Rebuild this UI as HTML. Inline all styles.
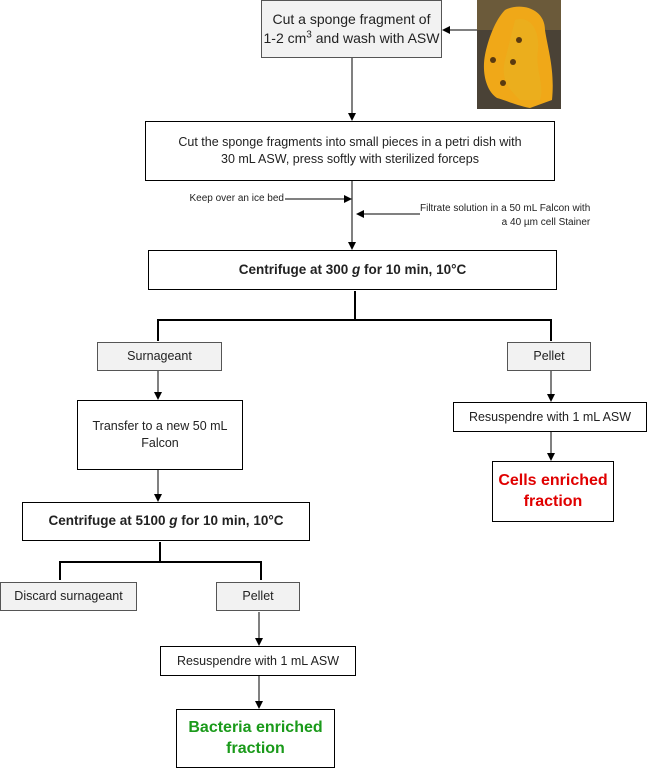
<!DOCTYPE html>
<html><head><meta charset="utf-8"><style>
body{margin:0;width:648px;height:770px;background:#fff;position:relative;overflow:hidden;font-family:"Liberation Sans",sans-serif;color:#222}
.b{position:absolute;box-sizing:border-box;border:1px solid #000;background:#fff;display:flex;align-items:center;justify-content:center;text-align:center;font-size:12.5px;line-height:1.35}
.g{background:#f2f2f2;border-color:#555}
.bold{font-weight:bold;font-size:13.5px}
.big{font-weight:bold;font-size:16px;line-height:1.3}
svg{position:absolute;left:0;top:0}
.t{position:absolute;font-size:10px;white-space:nowrap}
</style></head><body>
<svg width="648" height="770">
<defs><marker id="a" markerWidth="8" markerHeight="8" refX="7" refY="4" orient="auto" markerUnits="userSpaceOnUse"><path d="M0,0 L8,4 L0,8z" fill="#000"/></marker></defs>
<rect x="477" y="0" width="84" height="109" fill="#4a4236"/>
<rect x="477" y="0" width="84" height="30" fill="#6b5a3a"/>
<path d="M505,10 C520,2 545,8 545,30 C548,50 555,70 552,100 L530,108 C515,105 505,100 497,98 C485,90 482,70 485,55 C488,40 495,20 505,10z" fill="#f0a818"/>
<path d="M515,20 C530,15 540,30 538,50 C535,70 545,85 540,100 L520,100 C510,90 500,80 505,60z" fill="#e8b020" opacity=".7"/>
<circle cx="493" cy="60" r="3" fill="#5a3a10"/><circle cx="503" cy="83" r="3" fill="#5a3a10"/><circle cx="519" cy="40" r="3" fill="#5a3a10"/><circle cx="513" cy="62" r="3" fill="#5a3a10"/>
<g stroke="#000" stroke-width="1" fill="none">
<line x1="477" y1="30" x2="443" y2="30" marker-end="url(#a)"/>
<line x1="352" y1="58" x2="352" y2="120" marker-end="url(#a)"/>
<line x1="352" y1="181" x2="352" y2="249" marker-end="url(#a)"/>
<line x1="285" y1="199" x2="351" y2="199" marker-end="url(#a)"/>
<line x1="420" y1="214" x2="357" y2="214" marker-end="url(#a)"/>
<line x1="158" y1="371" x2="158" y2="399" marker-end="url(#a)"/>
<line x1="158" y1="470" x2="158" y2="501" marker-end="url(#a)"/>
<line x1="551" y1="371" x2="551" y2="401" marker-end="url(#a)"/>
<line x1="551" y1="432" x2="551" y2="460" marker-end="url(#a)"/>
<line x1="259" y1="612" x2="259" y2="645" marker-end="url(#a)"/>
<line x1="259" y1="676" x2="259" y2="708" marker-end="url(#a)"/>
</g>
<g stroke="#000" stroke-width="2" fill="none">
<polyline points="158,341 158,320 551,320 551,341"/>
<line x1="355" y1="291" x2="355" y2="320"/>
<polyline points="60,580 60,562 261,562 261,580"/>
<line x1="160" y1="542" x2="160" y2="562"/>
</g>
</svg>
<div class="b g" style="left:261px;top:0;width:181px;height:58px;font-size:14px"><span>Cut a sponge fragment of<br>1-2 cm<sup style="font-size:10px;line-height:0">3</sup> and wash with ASW</span></div>
<div class="b" style="left:145px;top:121px;width:410px;height:60px"><span>Cut the sponge fragments into small pieces in a petri dish with<br>30 mL ASW, press softly with sterilized forceps</span></div>
<div class="t" style="left:170px;top:193px;width:114px;text-align:right">Keep over an ice bed</div>
<div class="t" style="left:420px;top:202px;text-align:right;line-height:14px">Filtrate solution in a 50 mL Falcon with<br>a 40 µm cell Stainer</div>
<div class="b bold" style="left:148px;top:250px;width:409px;height:40px"><span>Centrifuge at 300 <i>g</i> for 10 min, 10°C</span></div>
<div class="b g" style="left:97px;top:342px;width:125px;height:29px">Surnageant</div>
<div class="b g" style="left:507px;top:342px;width:84px;height:29px">Pellet</div>
<div class="b" style="left:77px;top:400px;width:166px;height:70px"><span>Transfer to a new 50 mL<br>Falcon</span></div>
<div class="b" style="left:453px;top:402px;width:194px;height:30px">Resuspendre with 1 mL ASW</div>
<div class="b big" style="left:492px;top:461px;width:122px;height:61px;color:#e00000"><span>Cells enriched<br>fraction</span></div>
<div class="b bold" style="left:22px;top:502px;width:288px;height:39px"><span>Centrifuge at 5100 <i>g</i> for 10 min, 10°C</span></div>
<div class="b g" style="left:0;top:582px;width:137px;height:29px">Discard surnageant</div>
<div class="b g" style="left:216px;top:582px;width:84px;height:29px">Pellet</div>
<div class="b" style="left:160px;top:646px;width:196px;height:30px">Resuspendre with 1 mL ASW</div>
<div class="b big" style="left:176px;top:709px;width:159px;height:59px;color:#1a9a1a"><span>Bacteria enriched<br>fraction</span></div>
</body></html>
